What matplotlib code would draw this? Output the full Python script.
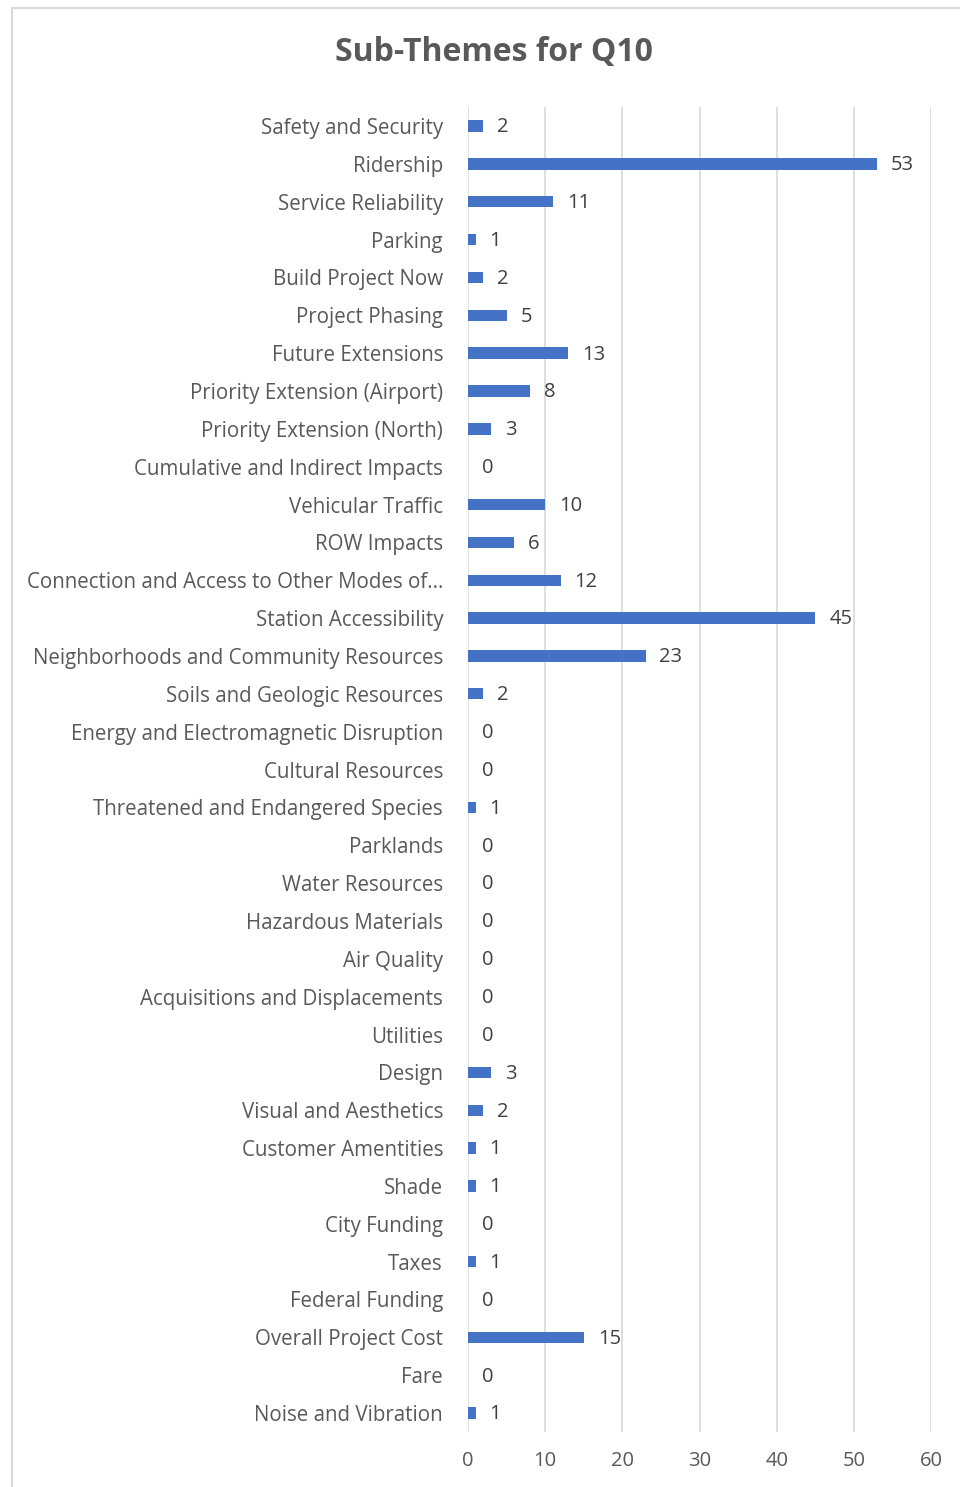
#!/usr/bin/env python
''' Sub-themes for Q10, horizontal bar chart (Excel style) '''

import matplotlib.pyplot as plt
from matplotlib.patches import Rectangle

##### DATA ######
categories = [
    'Safety and Security', 'Ridership', 'Service Reliability', 'Parking',
    'Build Project Now', 'Project Phasing', 'Future Extensions',
    'Priority Extension (Airport)', 'Priority Extension (North)',
    'Cumulative and Indirect Impacts', 'Vehicular Traffic', 'ROW Impacts',
    'Connection and Access to Other Modes of...', 'Station Accessibility',
    'Neighborhoods and Community Resources', 'Soils and Geologic Resources',
    'Energy and Electromagnetic Disruption', 'Cultural Resources',
    'Threatened and Endangered Species', 'Parklands', 'Water Resources',
    'Hazardous Materials', 'Air Quality', 'Acquisitions and Displacements',
    'Utilities', 'Design', 'Visual and Aesthetics', 'Customer Amentities',
    'Shade', 'City Funding', 'Taxes', 'Federal Funding',
    'Overall Project Cost', 'Fare', 'Noise and Vibration',
]
counts = [2, 53, 11, 1, 2, 5, 13, 8, 3, 0, 10, 6, 12, 45, 23, 2, 0, 0, 1,
          0, 0, 0, 0, 0, 0, 3, 2, 1, 1, 0, 1, 0, 15, 0, 1]
xticks = [0, 10, 20, 30, 40, 50, 60]
title = 'Sub-Themes for Q10'
#################

bar_col = '#4472C4'
txt_col = '#595959'
plt.rcParams['font.family'] = ['Open Sans', 'DejaVu Sans']

fig = plt.figure(figsize=(9.6, 14.87), dpi=100)
ax = fig.add_axes([0.4875, 0.037, 0.4825, 0.891])

ypos = list(range(len(categories)))
ax.barh(ypos, counts, height=0.3, color=bar_col, zorder=3)
for y, v in zip(ypos, counts):
    ax.annotate(str(v), (v, y), xytext=(10, -1), textcoords='offset points',
                va='center', ha='left', fontsize=14.5, color='#404040')

ax.set_ylim(len(categories) - 0.5, -0.5)
ax.set_xlim(0, 60)
ax.set_yticks(ypos)
ax.set_yticklabels(categories, fontsize=14.8, color=txt_col)
ax.set_xticks(xticks)
ax.set_xticklabels([str(t) for t in xticks], fontsize=14.5, color=txt_col)
ax.tick_params(axis='y', length=0, pad=18)
ax.tick_params(axis='x', length=0, pad=14)
ax.grid(axis='x', color='#d9d9d9', linewidth=1.2, zorder=0)
for s in ax.spines.values():
    s.set_visible(False)

fig.text(0.514, 0.965, title, ha='center', va='center', fontsize=23,
         fontweight='bold', color=txt_col)

# chart area border (light gray)
fig.patches.append(Rectangle((12 / 960, -0.1), 1.1, 1 - 8 / 1487 + 0.1,
                             transform=fig.transFigure, fill=False,
                             edgecolor='#d9d9d9', linewidth=1.5))

plt.savefig('out.png', dpi=100)
